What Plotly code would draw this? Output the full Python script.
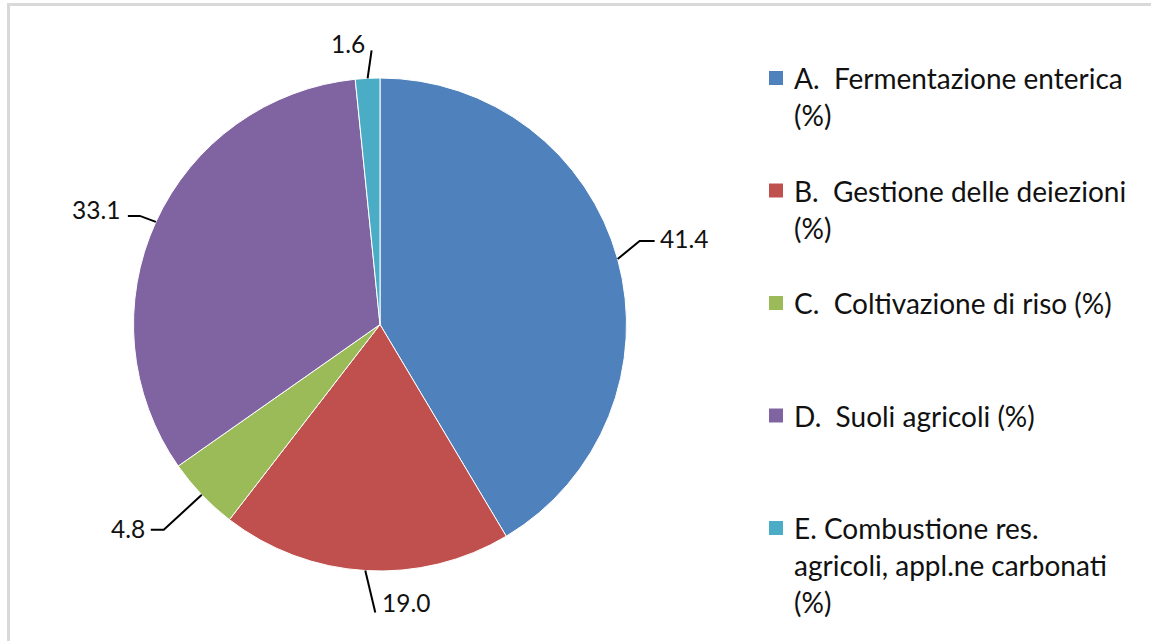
import math
import textwrap
import plotly.graph_objects as go

# ---- data ----
categories = [
    "A.\u00a0 Fermentazione enterica (%)",
    "B.\u00a0 Gestione delle deiezioni (%)",
    "C.\u00a0 Coltivazione di riso (%)",
    "D.\u00a0 Suoli agricoli (%)",
    "E. Combustione res. agricoli, appl.ne carbonati (%)",
]
values = [41.4, 19.0, 4.8, 33.1, 1.6]
colors = ["#4F81BD", "#C0504D", "#9BBB59", "#8064A2", "#4BACC6"]

# ---- layout constants (pixels) ----
W, H = 1151, 641
CX, CY, R = 380.0, 324.5, 246.5
FONT = "Lato, 'Open Sans', sans-serif"
FS_LABEL = 24.5
FS_LEG = 28

# leader-line style per slice: elbow offset from slice edge, horizontal tail, label placement
leader_style = [
    dict(dx=22, dy=-18, tail=15, anchor="left", lx=3, ly=-3),
    dict(dx=10, dy=42, tail=0, anchor="left", lx=5, ly=-10),
    dict(dx=-38, dy=35, tail=-13, anchor="right", lx=-4, ly=-1),
    dict(dx=-16, dy=-6, tail=-12, anchor="right", lx=-6, ly=-6),
    dict(dx=4, dy=-28, tail=0, anchor="center", lx=-24, ly=-7),
]


def px(x):
    return x / W


def py(y):
    return 1 - y / H


fig = go.Figure(
    go.Pie(
        labels=categories,
        values=values,
        sort=False,
        direction="clockwise",
        rotation=0,
        marker=dict(colors=colors, line=dict(color="white", width=1)),
        textinfo="none",
        hoverinfo="label+value",
        showlegend=False,
        domain=dict(x=[px(CX - R), px(CX + R)], y=[py(CY + R), py(CY - R)]),
    )
)

shapes = []
annotations = []

# data labels with leader lines, positioned from slice mid-angles
total = sum(values)
cum = 0.0
for v, st in zip(values, leader_style):
    mid = (cum + v / 2) / total * 2 * math.pi
    cum += v
    ex = CX + R * math.sin(mid)
    ey = CY - R * math.cos(mid)
    bx, by = ex + st["dx"], ey + st["dy"]
    tx, ty = bx + st["tail"], by
    path = f"M {px(ex)},{py(ey)} L {px(bx)},{py(by)} L {px(tx)},{py(ty)}"
    shapes.append(dict(type="path", xref="paper", yref="paper", path=path,
                       line=dict(color="black", width=2)))
    annotations.append(dict(
        x=px(tx + st["lx"]), y=py(ty + st["ly"]), xref="paper", yref="paper",
        text=f"{v:.1f}", showarrow=False, xanchor=st["anchor"], yanchor="middle",
        font=dict(family=FONT, size=FS_LABEL, color="#111111"),
    ))

# manual legend (wrapped entries, evenly spaced)
LEG_X_SQ, LEG_X_TXT = 776, 792
LEG_Y0, LEG_STEP, LINE_STEP, SQ = 78, 112.5, 37, 14
for i, (name, col) in enumerate(zip(categories, colors)):
    y0 = LEG_Y0 + i * LEG_STEP
    shapes.append(dict(type="rect", xref="paper", yref="paper",
                       x0=px(LEG_X_SQ - SQ / 2), x1=px(LEG_X_SQ + SQ / 2),
                       y0=py(y0 + SQ / 2), y1=py(y0 - SQ / 2),
                       fillcolor=col, line=dict(width=0)))
    for j, line in enumerate(textwrap.wrap(name, width=28)):
        annotations.append(dict(
            x=px(LEG_X_TXT), y=py(y0 + j * LINE_STEP), xref="paper", yref="paper",
            text=line, showarrow=False, xanchor="left", yanchor="middle",
            font=dict(family=FONT, size=FS_LEG, color="#111111"),
        ))

# light frame (top and left edges)
shapes.append(dict(type="line", xref="paper", yref="paper", x0=px(7), x1=1,
                   y0=py(4.5), y1=py(4.5), line=dict(color="#d9d9d9", width=3)))
shapes.append(dict(type="line", xref="paper", yref="paper", x0=px(8.5), x1=px(8.5),
                   y0=py(3), y1=0, line=dict(color="#d9d9d9", width=3)))

fig.update_layout(
    width=W, height=H,
    margin=dict(l=0, r=0, t=0, b=0),
    paper_bgcolor="white",
    plot_bgcolor="white",
    shapes=shapes,
    annotations=annotations,
)

fig.write_html(
    "out.html",
    config={"displayModeBar": False},
    post_script="document.body.style.margin='0';document.body.style.overflow='hidden';",
)
